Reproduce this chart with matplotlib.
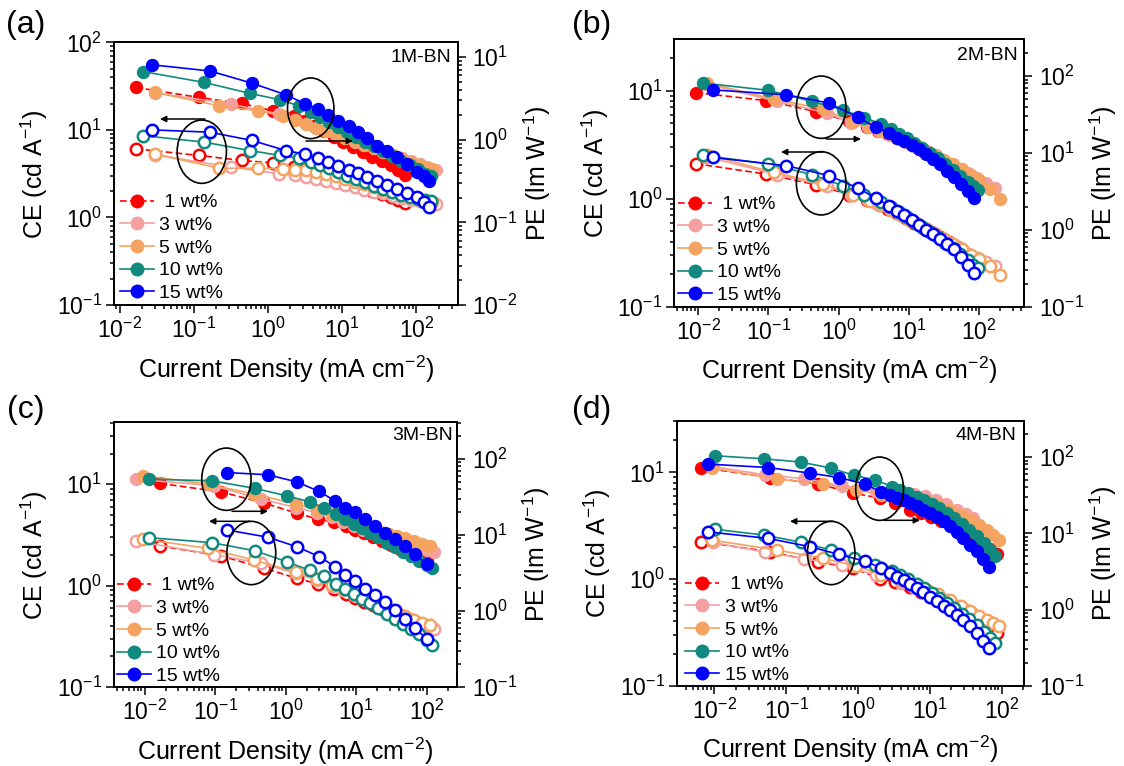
import numpy as np
import matplotlib
matplotlib.use('Agg')
import matplotlib.pyplot as plt
from matplotlib.patches import Ellipse, FancyArrowPatch
from matplotlib.ticker import LogLocator, NullFormatter, LogFormatterSciNotation

plt.rcParams['font.family'] = ['Liberation Sans', 'DejaVu Sans']
plt.rcParams['mathtext.fontset'] = 'custom'
plt.rcParams['mathtext.rm'] = 'Liberation Sans'
plt.rcParams['mathtext.it'] = 'Liberation Sans:italic'
plt.rcParams['mathtext.bf'] = 'Liberation Sans:bold'
plt.rcParams['axes.unicode_minus'] = False

# ---------------- data ----------------
LABELS = [' 1 wt%', '3 wt%', '5 wt%', '10 wt%', '15 wt%']
COLORS = ['#FF0000', '#F5A0A0', '#F4A460', '#10897E', '#0000FF']
PANEL_NAMES = ['1M-BN', '2M-BN', '3M-BN', '4M-BN']
PANEL_LETTERS = ['(a)', '(b)', '(c)', '(d)']

# Panel (a) 1M-BN : current density (mA cm-2), PE (lm/W, right axis), CE (cd/A, left axis)
a_x1 = [0.0166, 0.119, 0.447, 1.16, 2.27, 3.1, 4.2, 5.7, 7.7, 10.4, 14, 19, 25.5, 34, 45, 57, 71]
a_pe1 = [4.3, 3.25, 2.75, 2.24, 1.95, 1.69, 1.46, 1.26, 1.09, 0.94, 0.82, 0.71, 0.62, 0.55, 0.5, 0.43, 0.37]
a_ce1 = [6.07, 5.1, 4.47, 4.2, 3.8, 3.55, 3.3, 3.05, 2.8, 2.6, 2.4, 2.2, 2.0, 1.85, 1.72, 1.6, 1.45]
a_x3 = [0.03, 0.32, 1.43, 2.3, 3.27, 4.5, 6.1, 8.2, 11, 14.8, 20, 27, 36, 48, 64, 85, 112, 140, 184]
a_pe3 = [3.7, 2.7, 2.04, 1.74, 1.54, 1.38, 1.27, 1.15, 1.05, 0.95, 0.87, 0.79, 0.72, 0.66, 0.6, 0.55, 0.51, 0.47, 0.43]
a_ce3 = [5.2, 3.75, 3.15, 3.02, 2.88, 2.72, 2.58, 2.45, 2.32, 2.2, 2.07, 1.97, 1.88, 1.78, 1.67, 1.6, 1.55, 1.5, 1.44]
a_x5 = [0.030, 0.22, 0.73, 1.6, 2.3, 3.27, 4.5, 6.1, 8.2, 11, 14.8, 20, 27, 36, 48, 64, 85, 112, 140, 164]
a_pe5 = [3.74, 2.58, 2.24, 1.95, 1.74, 1.55, 1.40, 1.29, 1.16, 1.06, 0.96, 0.87, 0.79, 0.71, 0.65, 0.59, 0.54, 0.49, 0.46, 0.44]
a_ce5 = [5.3, 3.65, 3.65, 3.6, 3.5, 3.44, 3.3, 3.15, 2.95, 2.75, 2.57, 2.4, 2.24, 2.08, 1.94, 1.8, 1.7, 1.62, 1.55, 1.5]
a_x10 = [0.0205, 0.139, 0.574, 1.46, 2.6, 3.8, 5.0, 6.6, 8.8, 11.7, 15.5, 20.5, 27, 36, 47, 62, 82, 105, 130, 160]
a_pe10 = [6.7, 4.94, 3.64, 3.05, 2.57, 2.14, 1.87, 1.64, 1.43, 1.25, 1.09, 0.95, 0.84, 0.73, 0.64, 0.56, 0.49, 0.44, 0.39, 0.36]
a_ce10 = [8.6, 7.24, 5.8, 5.1, 4.75, 4.35, 4.0, 3.65, 3.3, 3.0, 2.75, 2.52, 2.3, 2.12, 1.96, 1.82, 1.7, 1.63, 1.58, 1.56]
a_x15 = [0.027, 0.166, 0.61, 1.75, 3.17, 4.8, 6.5, 8.9, 12.2, 16.6, 21.5, 29.4, 40, 55, 75, 102, 125, 146]
a_pe15 = [8.1, 6.8, 4.84, 3.5, 2.73, 2.37, 1.97, 1.71, 1.45, 1.24, 1.06, 0.85, 0.74, 0.62, 0.51, 0.41, 0.36, 0.32]
a_ce15 = [10.0, 9.4, 7.57, 5.8, 5.28, 4.71, 4.31, 3.85, 3.47, 3.18, 2.86, 2.6, 2.34, 2.14, 1.91, 1.72, 1.52, 1.32]

# Panel (b) 2M-BN
b_x1 = [0.0092, 0.092, 0.47, 1.41, 2.5, 3.6, 5.0, 6.8, 9.0, 12, 16, 21, 28, 37, 48, 62, 80, 100]
b_pe1 = [60.7, 47.9, 34.5, 25.7, 21.9, 19.5, 17.4, 15.5, 13.8, 12.3, 10.7, 9.3, 8.1, 7.1, 6.2, 5.4, 4.7, 4.2]
b_ce1 = [2.11, 1.69, 1.35, 1.09, 0.98, 0.89, 0.81, 0.73, 0.66, 0.6, 0.54, 0.49, 0.44, 0.4, 0.36, 0.32, 0.29, 0.27]
b_x3 = [0.0128, 0.134, 0.69, 1.49, 2.6, 3.8, 5.3, 7.2, 9.6, 12.8, 17, 22.5, 30, 40, 53, 70, 92, 125, 171]
b_pe3 = [79, 46.6, 33, 24.4, 21.4, 19.1, 17.0, 15.1, 13.5, 12.0, 10.7, 9.3, 8.1, 7.1, 6.2, 5.4, 4.7, 4.1, 3.5]
b_ce3 = [2.45, 1.67, 1.3, 1.09, 0.97, 0.88, 0.8, 0.72, 0.65, 0.59, 0.53, 0.48, 0.43, 0.39, 0.35, 0.31, 0.28, 0.26, 0.236]
b_x5 = [0.0135, 0.12, 0.59, 1.6, 2.8, 4.0, 5.6, 7.6, 10, 13.5, 18, 24, 32, 43, 57, 76, 100, 143, 196]
b_pe5 = [81, 50, 37.4, 25.1, 21.9, 19.5, 17.4, 15.5, 13.8, 12.3, 10.7, 9.3, 8.1, 7.1, 6.2, 5.2, 4.5, 3.4, 2.5]
b_ce5 = [2.55, 1.75, 1.38, 1.08, 0.96, 0.87, 0.79, 0.71, 0.64, 0.58, 0.52, 0.47, 0.42, 0.38, 0.34, 0.30, 0.275, 0.24, 0.195]
b_x10 = [0.0117, 0.1, 0.42, 1.14, 2.3, 4.0, 5.5, 7.2, 9.3, 12, 15.5, 20, 26, 33, 42, 54, 69, 82, 96]
b_pe10 = [81, 65, 46.6, 36.3, 28.8, 23.9, 20.4, 17.8, 15.5, 13.5, 11.7, 10.0, 8.5, 7.2, 6.0, 5.0, 4.2, 3.7, 3.3]
b_ce10 = [2.52, 2.1, 1.67, 1.32, 1.09, 0.93, 0.84, 0.76, 0.68, 0.61, 0.55, 0.49, 0.44, 0.39, 0.35, 0.31, 0.27, 0.245, 0.228]
b_x15 = [0.016, 0.18, 0.72, 1.86, 3.4, 5.25, 6.8, 8.6, 11, 14, 17.5, 22, 28, 35, 44, 55, 69, 86]
b_pe15 = [66, 57, 44.4, 29.2, 21.4, 18, 15.8, 14.1, 12.6, 11.3, 9.8, 8.4, 7.1, 5.8, 4.8, 3.9, 3.16, 2.57]
b_ce15 = [2.41, 2.02, 1.64, 1.26, 1.01, 0.86, 0.77, 0.7, 0.63, 0.57, 0.51, 0.47, 0.42, 0.38, 0.34, 0.29, 0.245, 0.205]

# Panel (c) 3M-BN
c_x1 = [0.0165, 0.121, 0.5, 1.43, 2.85, 4.9, 7.2, 9.7, 13, 17.5, 23.5, 31.5, 42, 56, 75, 100]
c_pe1 = [47.5, 36.8, 26.1, 19.3, 16.1, 14.6, 12.9, 11.7, 10.5, 9.3, 8.3, 7.4, 6.6, 5.9, 5.1, 4.5]
c_ce1 = [2.46, 1.96, 1.48, 1.18, 1.04, 0.92, 0.82, 0.75, 0.69, 0.64, 0.59, 0.55, 0.51, 0.47, 0.43, 0.40]
c_x3 = [0.0075, 0.097, 0.45, 1.4, 2.8, 4.5, 6.6, 9.2, 12.5, 17, 23, 31, 42, 56, 75, 100, 126]
c_pe3 = [54, 44.2, 29.5, 22.9, 19.5, 17.0, 14.8, 13.2, 11.7, 10.5, 9.5, 8.7, 7.9, 7.2, 6.8, 6.3, 6.0]
c_ce3 = [2.75, 2.02, 1.66, 1.32, 1.14, 1.0, 0.9, 0.81, 0.74, 0.67, 0.61, 0.56, 0.51, 0.47, 0.43, 0.40, 0.37]
c_x5 = [0.0095, 0.078, 0.36, 1.4, 2.8, 4.6, 6.8, 9.5, 12.4, 16.5, 22, 29, 38, 50, 66, 87, 112]
c_pe5 = [60, 46.5, 34.4, 25.4, 21.4, 18.6, 16.2, 14.5, 13.1, 12.0, 11.0, 10.3, 9.7, 9.0, 8.3, 7.7, 7.2]
c_ce5 = [2.88, 2.33, 1.78, 1.36, 1.16, 1.02, 0.92, 0.83, 0.76, 0.7, 0.64, 0.59, 0.54, 0.5, 0.46, 0.43, 0.41]
c_x10 = [0.0116, 0.09, 0.37, 1.04, 2.2, 3.5, 5.2, 7.0, 9.2, 12, 15.7, 20.5, 27, 35, 46, 60, 78, 100, 119]
c_pe10 = [54, 51.4, 40.8, 32.6, 27.2, 22.4, 18.7, 16.2, 14.1, 12.3, 10.7, 9.3, 7.9, 6.9, 6.0, 5.2, 4.6, 4.0, 3.7]
c_ce10 = [2.97, 2.65, 2.2, 1.72, 1.41, 1.23, 1.04, 0.92, 0.82, 0.74, 0.67, 0.60, 0.53, 0.47, 0.42, 0.37, 0.33, 0.29, 0.262]
c_x15 = [0.146, 0.556, 1.43, 3.0, 5.0, 6.9, 9.6, 13.3, 18.5, 25.6, 35.5, 49, 68, 100]
c_pe15 = [66, 61.7, 49.8, 37.2, 28, 22.9, 19.7, 16.1, 13.1, 10.7, 8.8, 7.2, 5.6, 4.1]
c_ce15 = [3.54, 3.0, 2.42, 1.93, 1.54, 1.27, 1.1, 0.93, 0.8, 0.69, 0.57, 0.47, 0.38, 0.30]

# Panel (d) 4M-BN
d_x1 = [0.0065, 0.0596, 0.28, 0.86, 2.0, 3.3, 5.3, 7.5, 10.5, 14.5, 20, 28, 38, 52, 68, 85]
d_pe1 = [73, 54, 44.3, 33.7, 29, 25, 20.3, 18.3, 16.5, 14.6, 12.7, 10.8, 9.0, 7.4, 6.3, 5.4]
d_ce1 = [2.24, 1.8, 1.45, 1.26, 1.01, 0.93, 0.84, 0.76, 0.68, 0.61, 0.54, 0.47, 0.42, 0.37, 0.33, 0.31]
d_x3 = [0.0096, 0.051, 0.179, 0.6, 1.8, 4.0, 6.0, 8.5, 12, 17, 24, 32, 40]
d_pe3 = [75, 58.6, 51.9, 42, 36, 34, 32.5, 30.5, 27.5, 24, 20.3, 18, 16]
d_ce3 = [2.2, 1.78, 1.55, 1.35, 1.08, 0.92, 0.84, 0.77, 0.7, 0.63, 0.56, 0.51, 0.47]
d_x5 = [0.0092, 0.0736, 0.33, 0.95, 2.1, 4.0, 6.3, 9.0, 13, 19, 27, 36, 48, 62, 76, 92]
d_pe5 = [71.8, 51.9, 44.3, 37.2, 32, 30, 28.5, 26.5, 23.5, 20.3, 17.5, 15, 13, 11.1, 9.6, 8.2]
d_ce5 = [2.32, 1.87, 1.56, 1.32, 1.1, 0.95, 0.86, 0.79, 0.72, 0.64, 0.56, 0.5, 0.45, 0.41, 0.385, 0.365]
d_x10 = [0.0104, 0.0496, 0.161, 0.42, 0.885, 1.72, 2.96, 3.9, 5.0, 6.6, 8.4, 10.7, 13.6, 17.3, 22, 28, 35.5, 45, 56, 68, 81]
d_pe10 = [104, 95, 86, 71.8, 57.4, 50.4, 41, 37.5, 34, 30.4, 27.3, 24.3, 21.3, 18.6, 15.9, 13.4, 11.2, 9.1, 7.4, 6.1, 5.0]
d_ce10 = [2.92, 2.58, 2.21, 1.87, 1.58, 1.36, 1.2, 1.1, 1.0, 0.9, 0.82, 0.74, 0.66, 0.6, 0.53, 0.47, 0.42, 0.37, 0.32, 0.28, 0.253]
d_x15 = [0.0081, 0.056, 0.214, 0.54, 1.25, 2.1, 2.8, 3.5, 4.3, 5.3, 6.6, 8.1, 10.1, 12.5, 15.5, 19.1, 23.5, 29.3, 36.5, 45, 55, 66.7]
d_pe15 = [81, 73, 61.7, 54, 44.3, 34.8, 32, 29, 27, 24.9, 22.5, 20.3, 18.4, 16.6, 14.5, 12.3, 10.4, 8.6, 7.1, 5.8, 4.6, 3.6]
d_ce15 = [2.77, 2.4, 2.01, 1.7, 1.47, 1.27, 1.15, 1.05, 0.97, 0.9, 0.82, 0.75, 0.68, 0.62, 0.56, 0.51, 0.46, 0.41, 0.36, 0.31, 0.265, 0.225]

# axis limits (log10 exponents)
XLIM = [(-2.08, 2.56), (-2.34, 2.64), (-2.44, 2.43), (-2.52, 2.31)]
CELIM = [(-1, 2.0), (-1, 1.476), (-1, 1.61), (-1, 1.478)]
PELIM = [(-2, 1.18), (-1, 2.477), (-1, 2.48), (-1, 2.47)]

# ---------------- figure ----------------
W, H = 1124, 766
fig = plt.figure(figsize=(W / 100, H / 100), dpi=100)


def px_rect(l, t, r, b):
    return [l / W, 1 - b / H, (r - l) / W, (b - t) / H]


AX_PX = [(113.6, 42.3, 457.9, 305.0),
         (674.4, 39.3, 1024.0, 306.7),
         (113.6, 422.3, 457.0, 687.0),
         (676.9, 421.3, 1024.0, 685.7)]

panels = [
    ([a_x1, a_x3, a_x5, a_x10, a_x15], [a_pe1, a_pe3, a_pe5, a_pe10, a_pe15], [a_ce1, a_ce3, a_ce5, a_ce10, a_ce15]),
    ([b_x1, b_x3, b_x5, b_x10, b_x15], [b_pe1, b_pe3, b_pe5, b_pe10, b_pe15], [b_ce1, b_ce3, b_ce5, b_ce10, b_ce15]),
    ([c_x1, c_x3, c_x5, c_x10, c_x15], [c_pe1, c_pe3, c_pe5, c_pe10, c_pe15], [c_ce1, c_ce3, c_ce5, c_ce10, c_ce15]),
    ([d_x1, d_x3, d_x5, d_x10, d_x15], [d_pe1, d_pe3, d_pe5, d_pe10, d_pe15], [d_ce1, d_ce3, d_ce5, d_ce10, d_ce15]),
]

LEG_PX = [(119.5, 302.0), (677.5, 304.0), (116.5, 685.0), (685.0, 684.0)]
LETTER_PX = [(6, 25), (572, 25), (7, 410), (572, 410)]
NAME_PX = [(451, 57), (1018, 56), (453, 436), (1016, 436)]
ELL_PX = [
    [(310.7, 108.3, 46.4, 60.7), (201.8, 151.7, 49.3, 63.3)],
    [(821.2, 107.2, 49.6, 62.3), (821.2, 183.3, 49.6, 63.3)],
    [(226.4, 479.2, 49.3, 62.3), (251.3, 553.0, 48.9, 63.3)],
    [(879.6, 488.7, 47.8, 63.3), (831.2, 553.0, 47.5, 63.3)],
]
ARR_PX = [
    [((306, 141), (353, 141)), ((205, 119), (160, 119))],
    [((826, 139), (861, 139)), ((823, 152), (781, 152))],
    [((232, 511.3), (268, 511.3)), ((250, 521.3), (209, 521.3))],
    [((884, 520.3), (920, 520.3)), ((833, 521.3), (790, 521.3))],
]

for p in range(4):
    xs, pes, ces = panels[p]
    ax = fig.add_axes(px_rect(*AX_PX[p]))
    ax2 = ax.twinx()
    for i in range(5):
        ls = (0, (4, 2)) if i == 0 else '-'
        c = COLORS[i]
        ax.plot(xs[i], ces[i], ls=ls, color=c, lw=1.2, marker='o', ms=8.2,
                mfc='white', mec=c, mew=1.8)
        ax2.plot(xs[i], pes[i], ls=ls, color=c, lw=1.2, marker='o', ms=8.6,
                 mfc=c, mec=c, label=LABELS[i])
    ax.set_xscale('log')
    ax.set_yscale('log')
    ax2.set_yscale('log')
    ax.set_xlim(10 ** XLIM[p][0], 10 ** XLIM[p][1])
    ax.set_ylim(10 ** CELIM[p][0], 10 ** CELIM[p][1])
    ax2.set_ylim(10 ** PELIM[p][0], 10 ** PELIM[p][1])

    for axis in (ax.xaxis, ax.yaxis, ax2.yaxis):
        axis.set_major_locator(LogLocator(base=10, numticks=100))
        axis.set_minor_locator(LogLocator(base=10, subs=np.arange(2, 10), numticks=100))
        axis.set_minor_formatter(NullFormatter())
        axis.set_major_formatter(LogFormatterSciNotation())

    for a in (ax, ax2):
        a.tick_params(which='both', direction='out', width=1.1, labelsize=16.5, pad=3)
        a.tick_params(which='major', length=5.5)
        a.tick_params(which='minor', length=2.8)
        for s in a.spines.values():
            s.set_linewidth(1.3)
    ax.tick_params(axis='x', which='both', pad=4)
    ax2.tick_params(axis='y', which='both', pad=5)

    ax.set_xlabel('Current Density (mA cm$^{-2}$)', fontsize=18, labelpad=7)
    ax.set_ylabel('CE (cd A$^{-1}$)', fontsize=18, labelpad=5)
    ax2.set_ylabel('PE (lm W$^{-1}$)', fontsize=18, labelpad=3)

    lx, ly = LEG_PX[p]
    ax2.legend(loc='lower left', bbox_to_anchor=(lx / W, 1 - ly / H),
               bbox_transform=fig.transFigure, frameon=False, fontsize=14,
               handlelength=1.75, handletextpad=0.3, labelspacing=0.26,
               borderpad=0, borderaxespad=0, markerscale=1.05)

    tx, ty = LETTER_PX[p]
    fig.text(tx / W, 1 - ty / H, PANEL_LETTERS[p], fontsize=23, ha='left', va='center')
    nx, ny = NAME_PX[p]
    fig.text(nx / W, 1 - ny / H, PANEL_NAMES[p], fontsize=14, ha='right', va='center')

    for (cx, cy, w, h) in ELL_PX[p]:
        e = Ellipse((cx / W, 1 - cy / H), w / W, h / H, transform=fig.transFigure,
                    fill=False, ec='black', lw=1.2, zorder=10)
        fig.add_artist(e)
    for (s, t) in ARR_PX[p]:
        fig.add_artist(FancyArrowPatch(
            (s[0] / W, 1 - s[1] / H), (t[0] / W, 1 - t[1] / H),
            transform=fig.transFigure, arrowstyle='-|>', mutation_scale=9,
            lw=1.1, color='black', shrinkA=0, shrinkB=0, zorder=10))

fig.savefig('out.png', dpi=100)
